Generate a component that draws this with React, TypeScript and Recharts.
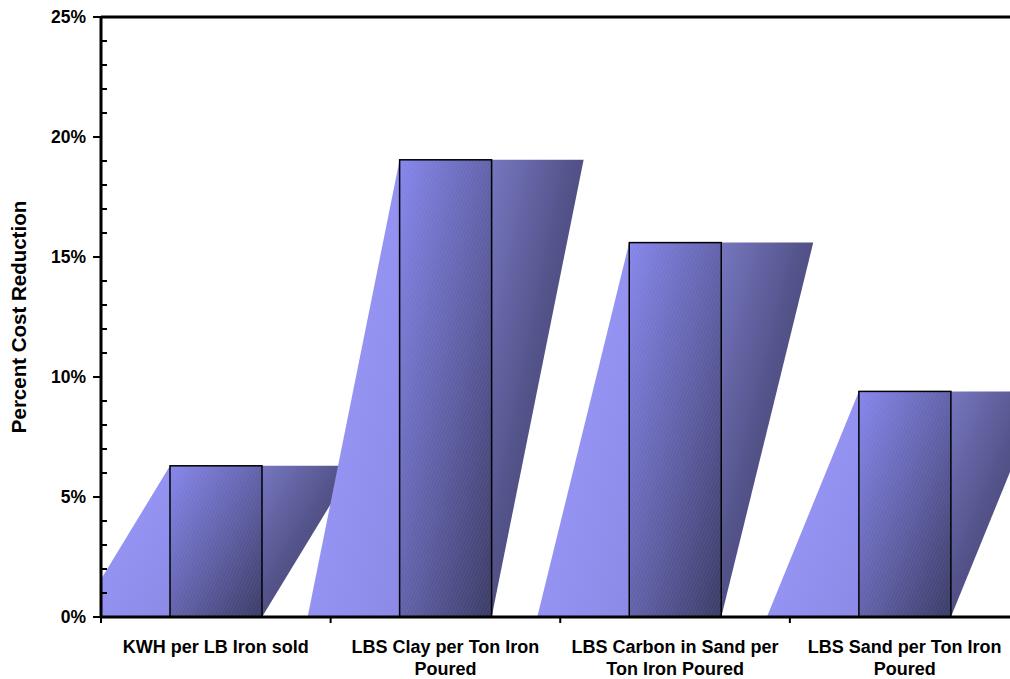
import React from "react"
import { BarChart, Bar, XAxis, YAxis, CartesianGrid, ReferenceLine } from "recharts"

const categories = [
  "KWH per LB Iron sold",
  "LBS Clay per Ton Iron\nPoured",
  "LBS Carbon in Sand per\nTon Iron Poured",
  "LBS Sand per Ton Iron\nPoured",
]
const reduction = [0.063, 0.1905, 0.156, 0.094]
const yTicks = [
  0, 0.01, 0.02, 0.03, 0.04, 0.05, 0.06, 0.07, 0.08, 0.09, 0.1, 0.11, 0.12, 0.13,
  0.14, 0.15, 0.16, 0.17, 0.18, 0.19, 0.2, 0.21, 0.22, 0.23, 0.24, 0.25,
]
const majorTicks = [0, 0.05, 0.1, 0.15, 0.2, 0.25]

const data = categories.map((name, i) => ({ name, value: reduction[i] }))

const W = 1040
const H = 679
const Y_AXIS_W = 101
const MARGIN = { top: 17, right: 20.5, bottom: 0, left: 0 }
const PLOT_W = W - Y_AXIS_W - MARGIN.left - MARGIN.right
const BAND = PLOT_W / categories.length
const FONT = "'Liberation Sans', Arial, sans-serif"

function PerspectiveBar(props: any) {
  const { x, y, width, height, index } = props
  if (height == null || height <= 0) return null
  const bottom = y + height
  const id = `b${index}`
  return (
    <g>
      <defs>
        <linearGradient id={`${id}-front`} x1="0" y1="0" x2="1" y2="1">
          <stop offset="0%" stopColor="#8686ec" />
          <stop offset="55%" stopColor="#5e5ea4" />
          <stop offset="100%" stopColor="#3b3b66" />
        </linearGradient>
        <linearGradient id={`${id}-right`} x1="0" y1="0" x2="1" y2="1">
          <stop offset="0%" stopColor="#7676c0" />
          <stop offset="45%" stopColor="#53538a" />
          <stop offset="100%" stopColor="#3e3e6c" />
        </linearGradient>
        <linearGradient id={`${id}-left`} x1="0" y1="0" x2="1" y2="1">
          <stop offset="0%" stopColor="#9c9cff" />
          <stop offset="100%" stopColor="#8c8ae6" />
        </linearGradient>
        <pattern id={`${id}-hatch`} width="3" height="3" patternUnits="userSpaceOnUse" patternTransform="rotate(25)">
          <line x1="0" y1="0" x2="0" y2="3" stroke="#ffffff" strokeOpacity={0.1} strokeWidth={1} />
        </pattern>
        <clipPath id={`${id}-clip`}>
          <rect x={Y_AXIS_W + MARGIN.left} y={0} width={W} height={H} />
        </clipPath>
      </defs>
      <g clipPath={`url(#${id}-clip)`}>
        <polygon
          points={`${x - width},${bottom} ${x},${y} ${x},${bottom}`}
          fill={`url(#${id}-left)`}
        />
        <polygon
          points={`${x + width},${y} ${x + 2 * width},${y} ${x + width},${bottom}`}
          fill={`url(#${id}-right)`}
        />
      </g>
      <rect x={x} y={y} width={width} height={height} fill={`url(#${id}-front)`} />
      <rect x={x} y={y} width={width} height={height} fill={`url(#${id}-hatch)`} />
      <rect x={x} y={y} width={width} height={height} fill="none" stroke="#000" strokeWidth={1.5} />
    </g>
  )
}

function YTick(props: any) {
  const { x, y, payload } = props
  const v = payload.value
  const pct = Math.round(v * 100)
  const major = pct % 5 === 0
  if (!major) {
    return <line x1={x} x2={x + 6} y1={y} y2={y} stroke="#000" strokeWidth={2} />
  }
  return (
    <g>
      <line x1={x - 8} x2={x} y1={y} y2={y} stroke="#000" strokeWidth={2} />
      <text x={x - 15} y={y} dy="0.36em" textAnchor="end" fontFamily={FONT} fontWeight="bold" fontSize={17.5} fill="#000">
        {`${pct}%`}
      </text>
    </g>
  )
}

function XTick(props: any) {
  const { x, y, payload, index } = props
  const lines = String(payload.value).split("\n")
  return (
    <g>
      <line x1={x - BAND / 2} x2={x - BAND / 2} y1={y} y2={y + 6} stroke="#000" strokeWidth={2} />
      {index === categories.length - 1 && (
        <line x1={x + BAND / 2} x2={x + BAND / 2} y1={y} y2={y + 6} stroke="#000" strokeWidth={2} />
      )}
      <text textAnchor="middle" fontFamily={FONT} fontWeight="bold" fontSize={18} fill="#000">
        {lines.map((l, i) => (
          <tspan key={i} x={x} y={y + 36 + i * 22}>
            {l}
          </tspan>
        ))}
      </text>
    </g>
  )
}

function YTitle(props: any) {
  const vb = props.viewBox || { x: 0, y: MARGIN.top, width: Y_AXIS_W, height: 600 }
  const cx = vb.x + 18
  const cy = vb.y + vb.height / 2
  return (
    <text
      x={cx}
      y={cy}
      transform={`rotate(-90, ${cx}, ${cy})`}
      textAnchor="middle"
      dominantBaseline="central"
      fontFamily={FONT}
      fontWeight="bold"
      fontSize={20.5}
      fill="#000"
    >
      Percent Cost Reduction
    </text>
  )
}

export default function App() {
  return (
    <div style={{ position: "absolute", left: 0, top: 0, width: 1010, height: 679, overflow: "hidden", background: "#fff" }}>
      <BarChart width={W} height={H} data={data} margin={MARGIN}>
        <CartesianGrid yAxisId="grid" vertical={false} stroke="#000" strokeWidth={1} />
        <XAxis
          dataKey="name"
          height={62}
          interval={0}
          tick={<XTick />}
          tickLine={false}
          tickSize={0}
          tickMargin={0}
          axisLine={{ stroke: "#000", strokeWidth: 3 }}
        />
        <YAxis
          yAxisId="grid"
          hide
          domain={[0, 0.25]}
          ticks={majorTicks}
          type="number"
        />
        <YAxis
          width={Y_AXIS_W}
          domain={[0, 0.25]}
          ticks={yTicks}
          interval={0}
          type="number"
          tick={<YTick />}
          tickLine={false}
          tickSize={0}
          tickMargin={0}
          axisLine={{ stroke: "#000", strokeWidth: 3 }}
          label={<YTitle />}
        />
        <Bar dataKey="value" barSize={92} shape={<PerspectiveBar />} isAnimationActive={false} />
        <ReferenceLine y={0.25} stroke="#000" strokeWidth={3} />
      </BarChart>
    </div>
  )
}
